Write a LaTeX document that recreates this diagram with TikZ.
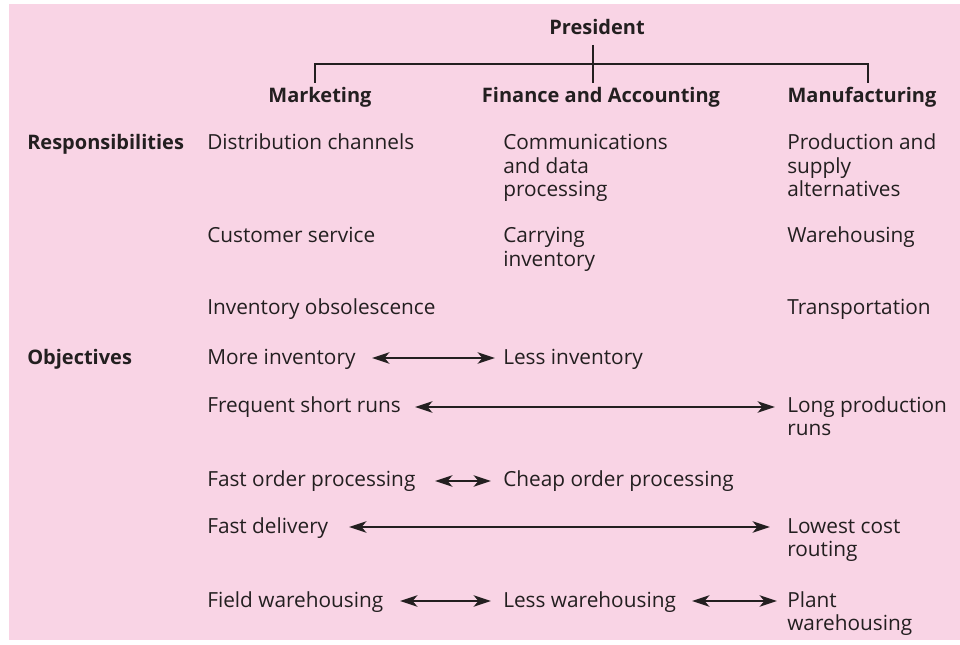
\documentclass[tikz,border=0pt]{standalone}
\usepackage{fontspec}
\setmainfont{Open Sans}
\usetikzlibrary{arrows.meta}
\definecolor{panelpink}{RGB}{249,212,229}
\definecolor{ink}{RGB}{35,31,32}
\newcommand\txtlines[1]{\begin{tabular}[t]{@{}l@{}}#1\end{tabular}}
\tikzset{
  txt/.style={anchor=base west, inner sep=0pt, text=ink,
    font=\fontsize{15.6}{17.6}\selectfont},
  head/.style={txt, font=\fontsize{15}{17.6}\selectfont\bfseries},
  chead/.style={head, anchor=base},
  tree/.style={draw=ink, line width=1.8pt},
  biarrow/.style={draw=ink, line width=1.6pt,
    {Stealth[length=13pt,width=8.5pt,inset=3.5pt]}-{Stealth[length=13pt,width=8.5pt,inset=3.5pt]}}
}
\begin{document}
\begin{tikzpicture}[x=0.75pt,y=-0.75pt]
\useasboundingbox (0,0) rectangle (960,645);
\fill[panelpink] (9,4) rectangle (960,640);

% organisation tree
\node[chead] (pres) at (597,35) {President};
\node[chead] (mkt) at (320,103) {Marketing};
\node[chead] (fin) at (601,103) {Finance and Accounting};
\node[chead] (mfg) at (862,103) {Manufacturing};
\coordinate (presfoot) at (593,45);
\coordinate (finTop) at (593,83);
\coordinate (mktTop) at (315,83);
\coordinate (mfgTop) at (868,83);
\draw[tree] (presfoot) -- (finTop);
\draw[tree] (mktTop) -- ++(0,-19) -| (mfgTop);

% row labels
\node[head] (resp) at (27,150) {Responsibilities};
\node[head] (obj) at (27,364) {Objectives};

% responsibilities
\node[txt] (r1a) at (207,150) {Distribution channels};
\node[txt] (r1b) at (503,150) {\txtlines{Communications\\and data\\processing}};
\node[txt] (r1c) at (787,150) {\txtlines{Production and\\supply\\alternatives}};
\node[txt] (r2a) at (207,243) {Customer service};
\node[txt] (r2b) at (503,243) {\txtlines{Carrying\\inventory}};
\node[txt] (r2c) at (787,243) {Warehousing};
\node[txt] (r3a) at (207,315) {Inventory obsolescence};
\node[txt] (r3c) at (787,315) {Transportation};

% objectives
\node[txt] (o1a) at (207,364) {More inventory};
\node[txt] (o1b) at (503,364) {Less inventory};
\node[txt] (o2a) at (207,412) {Frequent short runs};
\node[txt] (o2c) at (787,412) {\txtlines{Long production\\runs}};
\node[txt] (o3a) at (207,486) {Fast order processing};
\node[txt] (o3b) at (503,486) {Cheap order processing};
\node[txt] (o4a) at (207,533) {Fast delivery};
\node[txt] (o4c) at (787,533) {\txtlines{Lowest cost\\routing}};
\node[txt] (o5a) at (207,607) {Field warehousing};
\node[txt] (o5b) at (503,607) {Less warehousing};
\node[txt] (o5c) at (787,607) {\txtlines{Plant\\warehousing}};

% trade-off arrows
\coordinate (a1l) at (372,358); \coordinate (a1r) at (495,358);
\coordinate (a2l) at (415,407); \coordinate (a2r) at (775,407);
\coordinate (a3l) at (435,481); \coordinate (a3r) at (491,481);
\coordinate (a4l) at (349,527); \coordinate (a4r) at (770,527);
\coordinate (a5l) at (400,601); \coordinate (a5r) at (491,601);
\coordinate (a6l) at (692,601); \coordinate (a6r) at (777,601);
\draw[biarrow] (a1l) -- (a1r);
\draw[biarrow] (a2l) -- (a2r);
\draw[biarrow] (a3l) -- (a3r);
\draw[biarrow] (a4l) -- (a4r);
\draw[biarrow] (a5l) -- (a5r);
\draw[biarrow] (a6l) -- (a6r);
\end{tikzpicture}
\end{document}
